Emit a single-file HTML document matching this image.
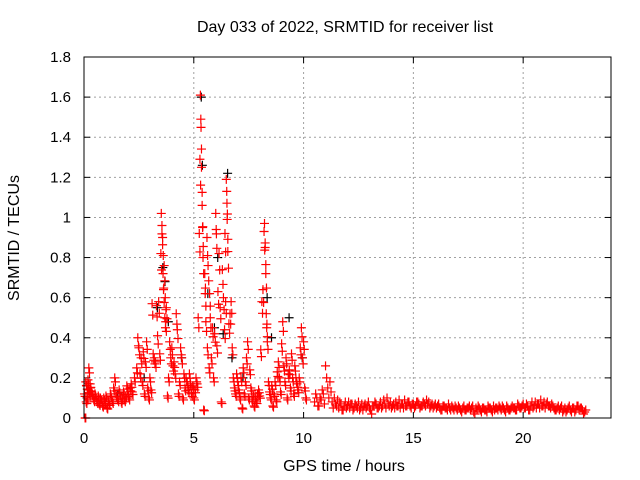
<!DOCTYPE html>
<html><head><meta charset="utf-8"><style>
body{margin:0;background:#fff;}
svg{display:block;font-family:"Liberation Sans",sans-serif;}
</style></head><body>
<svg id="chart" width="640" height="480" viewBox="0 0 640 480">
<text x="345" y="32" font-size="16" text-anchor="middle">Day 033 of 2022, SRMTID for receiver list</text>
<text x="344" y="471" font-size="16" text-anchor="middle">GPS time / hours</text>
<text x="19" y="238" font-size="16" text-anchor="middle" transform="rotate(-90 19 238)">SRMTID / TECUs</text>
<g id="grid"></g>
<g id="ticks"></g>
<g id="black"></g>
<g id="red"></g>
<rect x="84" y="57" width="527" height="361" fill="none" stroke="#000" stroke-width="1"/>
</svg>
<script>
const xTicks=[0,5,10,15,20];
const yTicks=[0,0.2,0.4,0.6,0.8,1,1.2,1.4,1.6,1.8];
const yTickLabels=["0","0.2","0.4","0.6","0.8","1","1.2","1.4","1.6","1.8"];
const redHours=[0.02,0.05,0.08,0.1,0.12,0.15,0.18,0.2,0.22,0.25,0.28,0.3,0.35,0.4,0.45,0.5,0.55,0.6,0.65,0.7,0.75,0.8,0.85,0.9,0.95,1.0,1.05,1.1,1.15,1.2,1.25,1.3,1.35,1.4,1.45,1.5,1.55,1.6,1.65,1.7,1.75,1.8,1.85,1.9,1.95,2.0,2.05,2.1,2.15,2.2,2.3,2.4,2.45,2.5,2.55,2.6,2.65,2.7,2.75,2.8,2.85,2.9,2.95,3.0,3.05,3.1,3.15,3.2,3.25,3.3,3.35,3.4,3.45,3.5,3.52,3.55,3.58,3.6,3.62,3.65,3.68,3.7,3.72,3.75,3.8,3.85,3.9,3.95,4.0,4.05,4.1,4.15,4.2,4.25,4.3,4.35,4.4,4.45,4.5,4.55,4.6,4.65,4.7,4.75,4.8,4.85,4.9,4.95,5.0,5.05,5.1,5.15,5.2,5.25,5.28,5.3,5.32,5.35,5.38,5.4,5.42,5.45,5.5,5.52,5.55,5.6,5.62,5.65,5.7,5.72,5.75,5.8,5.85,5.9,5.95,6.0,6.02,6.05,6.1,6.15,6.2,6.25,6.3,6.35,6.4,6.42,6.45,6.48,6.5,6.52,6.55,6.6,6.65,6.7,6.75,6.8,6.85,6.9,6.95,7.0,7.05,7.1,7.15,7.2,7.25,7.3,7.35,7.4,7.45,7.5,7.55,7.6,7.65,7.7,7.75,7.8,7.85,7.9,7.95,8.0,8.05,8.1,8.15,8.2,8.22,8.25,8.28,8.3,8.32,8.35,8.4,8.45,8.5,8.55,8.6,8.65,8.7,8.75,8.8,8.85,8.9,8.95,9.0,9.05,9.1,9.15,9.2,9.25,9.3,9.35,9.4,9.45,9.5,9.55,9.6,9.65,9.7,9.75,9.8,9.85,9.9,9.95,10.0,10.05,10.1,10.15,10.2,10.25,10.3,10.35,10.4];
const redValues=[0.12,0.0,0.18,0.08,0.16,0.1,0.19,0.14,0.25,0.12,0.17,0.15,0.13,0.11,0.09,0.12,0.1,0.08,0.11,0.07,0.1,0.09,0.06,0.1,0.08,0.11,0.05,0.09,0.07,0.12,0.1,0.08,0.15,0.2,0.12,0.1,0.09,0.14,0.11,0.08,0.1,0.13,0.09,0.11,0.16,0.12,0.1,0.15,0.17,0.13,0.2,0.25,0.4,0.35,0.22,0.3,0.18,0.33,0.12,0.28,0.38,0.15,0.1,0.2,0.14,0.57,0.32,0.3,0.28,0.56,0.41,0.58,0.32,0.82,1.02,0.96,0.9,0.72,0.64,0.76,0.5,0.6,0.48,0.55,0.11,0.2,0.38,0.3,0.35,0.26,0.28,0.22,0.52,0.44,0.12,0.18,0.35,0.3,0.1,0.22,0.15,0.2,0.18,0.14,0.22,0.17,0.12,0.16,0.1,0.14,0.2,0.17,0.5,0.92,1.29,1.61,1.49,1.25,1.06,0.95,0.8,0.04,0.72,0.62,0.48,0.9,0.35,0.76,0.25,0.62,0.5,0.3,0.45,0.2,0.42,1.02,0.94,0.36,0.63,0.82,0.55,0.08,0.74,0.6,0.44,0.92,0.58,1.19,1.13,0.99,0.83,0.47,0.52,0.58,0.35,0.2,0.15,0.12,0.22,0.18,0.14,0.1,0.2,0.05,0.25,0.12,0.18,0.3,0.38,0.1,0.24,0.15,0.09,0.12,0.06,0.1,0.08,0.12,0.14,0.11,0.34,0.58,0.64,0.93,0.97,0.85,0.72,0.52,0.45,0.38,0.18,0.13,0.1,0.16,0.06,0.12,0.18,0.09,0.23,0.28,0.2,0.13,0.37,0.48,0.26,0.18,0.3,0.1,0.22,0.24,0.15,0.32,0.2,0.12,0.26,0.2,0.17,0.14,0.2,0.35,0.45,0.3,0.38,0.15,0.1];
const baseHours=[10.5,10.6,10.7,10.8,10.9,11.0,11.1,11.2,11.3,11.4,11.5,11.6,11.7,11.8,11.9,12.0,12.1,12.2,12.3,12.4,12.5,12.6,12.7,12.8,12.9,13.0,13.1,13.2,13.3,13.4,13.5,13.6,13.7,13.8,13.9,14.0,14.1,14.2,14.3,14.4,14.5,14.6,14.7,14.8,14.9,15.0,15.1,15.2,15.3,15.4,15.5,15.6,15.7,15.8,15.9,16.0,16.1,16.2,16.3,16.4,16.5,16.6,16.7,16.8,16.9,17.0,17.1,17.2,17.3,17.4,17.5,17.6,17.7,17.8,17.9,18.0,18.1,18.2,18.3,18.4,18.5,18.6,18.7,18.8,18.9,19.0,19.1,19.2,19.3,19.4,19.5,19.6,19.7,19.8,19.9,20.0,20.1,20.2,20.3,20.4,20.5,20.6,20.7,20.8,20.9,21.0,21.1,21.2,21.3,21.4,21.5,21.6,21.7,21.8,21.9,22.0,22.1,22.2,22.3,22.4,22.5,22.6,22.7,22.8];
const baseValuesA=[0.08,0.1,0.06,0.09,0.12,0.26,0.15,0.18,0.08,0.1,0.06,0.05,0.07,0.04,0.08,0.06,0.05,0.07,0.05,0.06,0.08,0.05,0.04,0.07,0.06,0.05,0.02,0.06,0.07,0.05,0.08,0.06,0.07,0.1,0.06,0.05,0.07,0.08,0.06,0.05,0.07,0.09,0.06,0.08,0.05,0.07,0.06,0.08,0.05,0.06,0.07,0.09,0.08,0.06,0.05,0.07,0.06,0.05,0.04,0.06,0.05,0.07,0.04,0.05,0.06,0.04,0.05,0.03,0.06,0.04,0.05,0.04,0.06,0.02,0.04,0.05,0.03,0.05,0.04,0.06,0.05,0.03,0.04,0.05,0.06,0.04,0.05,0.03,0.05,0.04,0.06,0.05,0.04,0.06,0.05,0.07,0.05,0.06,0.04,0.08,0.06,0.05,0.07,0.09,0.06,0.05,0.08,0.06,0.07,0.05,0.04,0.06,0.05,0.03,0.05,0.04,0.06,0.03,0.05,0.04,0.06,0.05,0.04,0.03];
const baseValuesB=[0.12,0.06,0.1,0.14,0.07,0.2,0.1,0.13,0.05,0.07,0.09,0.08,0.04,0.06,0.05,0.08,0.07,0.04,0.07,0.05,0.04,0.07,0.06,0.05,0.08,0.04,0.06,0.08,0.05,0.06,0.05,0.09,0.05,0.07,0.08,0.06,0.05,0.06,0.09,0.07,0.05,0.06,0.08,0.06,0.07,0.05,0.08,0.07,0.06,0.08,0.06,0.07,0.05,0.07,0.06,0.05,0.07,0.04,0.06,0.05,0.04,0.05,0.06,0.04,0.05,0.06,0.04,0.05,0.04,0.05,0.06,0.05,0.03,0.05,0.06,0.04,0.05,0.04,0.03,0.05,0.04,0.06,0.05,0.04,0.05,0.06,0.04,0.06,0.04,0.05,0.05,0.04,0.07,0.05,0.06,0.05,0.07,0.04,0.06,0.05,0.08,0.07,0.05,0.06,0.08,0.07,0.06,0.05,0.06,0.04,0.05,0.04,0.06,0.04,0.03,0.05,0.04,0.05,0.03,0.06,0.04,0.05,0.02,0.04];
const blackHours=[0.1,0.6,1.5,2.7,3.3,3.55,3.65,3.8,4.4,5.3,5.35,5.6,5.9,6.05,6.3,6.5,6.7,7.2,8.3,8.5,9.3,9.9];
const blackValues=[0.1,0.08,0.12,0.2,0.55,0.75,0.68,0.48,0.3,1.6,1.26,0.62,0.45,0.8,0.42,1.22,0.3,0.2,0.6,0.4,0.5,0.3];
const NS='http://www.w3.org/2000/svg';
const X0=84,X1=611,Y0=418,Y1=57,XMAX=24,YMAX=1.8;
function xs(v){return X0+(X1-X0)*v/XMAX;}
function ys(v){return Y0-(Y0-Y1)*v/YMAX;}
function mk(tag,attrs,parent){const e=document.createElementNS(NS,tag);for(const k in attrs)e.setAttribute(k,attrs[k]);parent.appendChild(e);return e;}
const grid=document.getElementById('grid'),ticks=document.getElementById('ticks');
xTicks.forEach(t=>{const x=xs(t);
 if(t>0){const g=mk('line',{x1:x,x2:x,y1:Y1,y2:Y0,stroke:'#a0a0a0','stroke-dasharray':'2,3'},grid);
 
 }
 const l=mk('text',{x:x,y:Y0+25,'font-size':15,'text-anchor':'middle'},ticks);l.textContent=t;
 
 
 mk('line',{x1:x,x2:x,y1:Y0,y2:Y0-6,stroke:'#000'},ticks);
 mk('line',{x1:x,x2:x,y1:Y1,y2:Y1+6,stroke:'#000'},ticks);});
yTicks.forEach((t,i)=>{const y=ys(t);
 if(t>0&&t<1.8){const g=mk('line',{x1:X0,x2:X1,y1:y,y2:y,stroke:'#a0a0a0','stroke-dasharray':'2,3'},grid);
 
 }
 const l=mk('text',{x:X0-13,y:y+5,'font-size':15,'text-anchor':'end'},ticks);l.textContent=yTickLabels[i];
 
 
 mk('line',{x1:X0,x2:X0+6,y1:y,y2:y,stroke:'#000'},ticks);
 mk('line',{x1:X1,x2:X1-6,y1:y,y2:y,stroke:'#000'},ticks);});
function plus(g,h,v,c,name){const x=xs(h),y=ys(v);
 const p=mk('path',{d:`M${x-4.5} ${y}H${x+4.5}M${x} ${y-4.5}V${y+4.5}`,stroke:c,'stroke-width':1.2,fill:'none'},g);
 
 }
const bg=document.getElementById('black'),rg=document.getElementById('red');
blackHours.forEach((h,i)=>plus(bg,h+0.04,blackValues[i],'#000','black-point'));
redHours.forEach((h,i)=>plus(rg,h,redValues[i],'#f00','red-point'));
redHours.forEach((h,i)=>plus(rg,h+0.03,redValues[i]*0.9,'#f00','red-point'));
baseHours.forEach((h,i)=>plus(rg,h,baseValuesA[i],'#f00','red-point'));
baseHours.forEach((h,i)=>plus(rg,h+0.05,baseValuesB[i],'#f00','red-point'));
</script>
</body></html>
